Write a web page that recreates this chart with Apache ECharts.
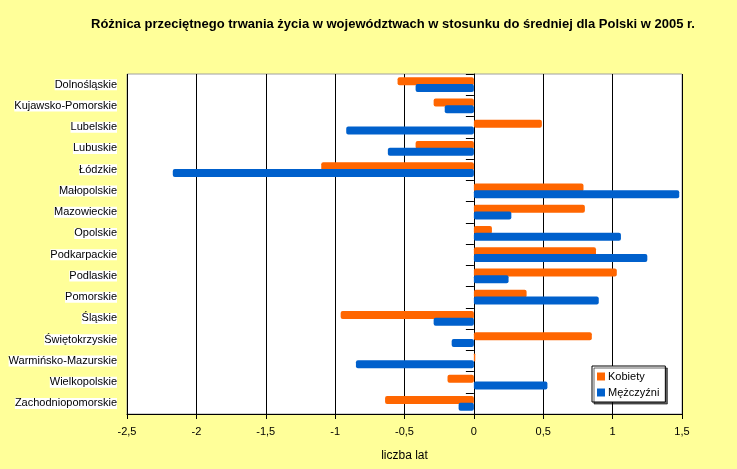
<!DOCTYPE html>
<html><head><meta charset="utf-8">
<script src="https://cdn.jsdelivr.net/npm/echarts@6/dist/echarts.min.js"></script>
<style>html,body{margin:0;padding:0;background:#FFFF99;}#c{width:737px;height:469px;}</style>
</head><body><div id="c"></div>
<script>
var categories = ["Dolnośląskie","Kujawsko-Pomorskie","Lubelskie","Lubuskie","Łódzkie","Małopolskie","Mazowieckie","Opolskie","Podkarpackie","Podlaskie","Pomorskie","Śląskie","Świętokrzyskie","Warmińsko-Mazurskie","Wielkopolskie","Zachodniopomorskie"];
var kobiety = [-0.55,-0.29,0.49,-0.42,-1.10,0.79,0.80,0.13,0.88,1.03,0.38,-0.96,0.85,0.01,-0.19,-0.64];
var mezczyzni = [-0.42,-0.21,-0.92,-0.62,-2.17,1.48,0.27,1.06,1.25,0.25,0.90,-0.29,-0.16,-0.85,0.53,-0.11];
var xTicks = {min:-2.5, max:1.5, step:0.5};

var chart = echarts.init(document.getElementById('c'));
var lab = {fontFamily:'Liberation Sans, Arial', fontSize:11, color:'#000'};
chart.setOption({
  backgroundColor:'#FFFF99',
  animation:false,
  title:{text:'Różnica przeciętnego trwania życia w województwach w stosunku do średniej dla Polski w 2005 r.',
    left:86, top:13,
    textStyle:{fontFamily:'Liberation Sans, Arial', fontWeight:'bold', fontSize:13, color:'#000', backgroundColor:'#fff'}},
  legend:{orient:'vertical', left:592, top:366, width:76,
    backgroundColor:'#fff', borderColor:'#000', borderWidth:1, padding:[5,6,4,5],
    itemWidth:8, itemHeight:8, itemGap:5, icon:'rect',
    shadowColor:'rgba(0,0,0,0.6)', shadowOffsetX:2, shadowOffsetY:2, shadowBlur:0,
    textStyle:{fontFamily:'Liberation Sans, Arial', fontSize:11, color:'#000', padding:[0,0,0,-2]},
    data:['Kobiety','Mężczyźni']},
  grid:{left:127, right:55, top:74, bottom:55, show:true, backgroundColor:'#fff', borderColor:'#a0a0a0', borderWidth:1, containLabel:false},
  xAxis:{type:'value', min:xTicks.min, max:xTicks.max, interval:xTicks.step,
    name:'liczba lat', nameLocation:'middle', nameGap:36,
    nameTextStyle:{fontFamily:'Liberation Sans, Arial', fontSize:12, color:'#000'},
    axisLine:{show:true, onZero:false, lineStyle:{color:'#000'}},
    axisTick:{show:true, length:5, lineStyle:{color:'#000'}},
    axisLabel:Object.assign({margin:12, formatter:function(v){return String(v).replace('.',',');}}, lab),
    splitLine:{show:true, lineStyle:{color:'#000', width:1}}},
  yAxis:{type:'category', data:categories, inverse:true,
    axisLine:{show:true, lineStyle:{color:'#000', width:1}},
    axisTick:{show:true, length:8, lineStyle:{color:'#000'}},
    axisLabel:Object.assign({margin:10, backgroundColor:'#fff'}, lab),
    splitLine:{show:false}},
  series:[
    {name:'Kobiety', type:'bar', data:kobiety, barWidth:8, barGap:'-15%',
      itemStyle:{color:'#FF6600', borderRadius:2}},
    {name:'Mężczyźni', type:'bar', data:mezczyzni, barWidth:8,
      itemStyle:{color:'#0060CC', borderRadius:2}}
  ]
});
</script></body></html>
